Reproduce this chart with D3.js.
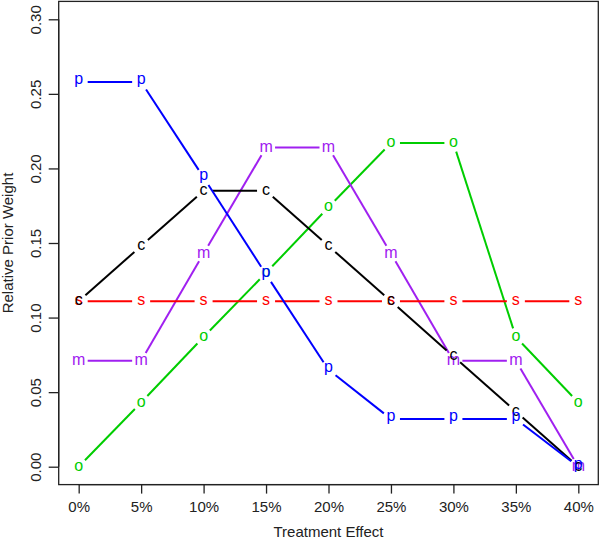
<!DOCTYPE html>
<html><head><meta charset="utf-8">
<script src="https://cdn.jsdelivr.net/npm/d3@7"></script>
<style>body{margin:0;background:#fff}svg{display:block}text{font-family:"Liberation Sans",Arial,sans-serif}</style>
</head><body>
<script>
const effects = [0, 5, 10, 15, 20, 25, 30, 35, 40];
const xTickLabels = ["0%","5%","10%","15%","20%","25%","30%","35%","40%"];
const yTicks = [0, 0.05, 0.10, 0.15, 0.20, 0.25, 0.30];
const seriesP = [0.258, 0.258, 0.194, 0.129, 0.065, 0.032, 0.032, 0.032, 0.000];
const seriesS = [0.111, 0.111, 0.111, 0.111, 0.111, 0.111, 0.111, 0.111, 0.111];
const seriesC = [0.111, 0.148, 0.185, 0.185, 0.148, 0.111, 0.074, 0.037, 0.000];
const seriesM = [0.071, 0.071, 0.143, 0.214, 0.214, 0.143, 0.071, 0.071, 0.000];
const seriesO = [0.000, 0.043, 0.087, 0.130, 0.174, 0.217, 0.217, 0.087, 0.043];
const seriesNames = ["o", "m", "s", "c", "p"];
const seriesColors = ["#00CD00", "#A020F0", "#FF0000", "#000000", "#0000FF"];
const seriesValues = [seriesO, seriesM, seriesS, seriesC, seriesP];

const W = 600, H = 539;
const svg = d3.select("body").append("svg").attr("width", W).attr("height", H);
const x = d3.scaleLinear().domain([-1.6, 41.6]).range([58.7, 598.3]);
const y = d3.scaleLinear().domain([-0.012, 0.312]).range([484.6, 1.4]);

// box
svg.append("rect").attr("x", x(-1.6)).attr("y", y(0.312)).attr("width", x(41.6)-x(-1.6)).attr("height", y(-0.012)-y(0.312))
  .attr("fill","none").attr("stroke","#222").attr("stroke-width",1.3);

// x axis
const xa = svg.append("g").attr("transform", `translate(0,${y(-0.012)})`)
  .call(d3.axisBottom(x).tickValues(effects).tickFormat((d,i)=>xTickLabels[i]).tickSize(9).tickPadding(8));
xa.select(".domain").attr("d", `M${x(0)},0H${x(40)}`).attr("stroke","#222").attr("stroke-width",1.3);
xa.selectAll(".tick line").attr("stroke","#222").attr("stroke-width",1.3);
xa.selectAll(".tick text").attr("font-size",15).attr("fill","#222").attr("font-family","Liberation Sans, Arial, sans-serif");

// y axis
const ya = svg.append("g").attr("transform", `translate(${x(-1.6)},0)`)
  .call(d3.axisLeft(y).tickValues(yTicks).tickFormat(d3.format(".2f")).tickSize(10));
ya.select(".domain").attr("d", `M0,${y(0)}V${y(0.30)}`).attr("stroke","#222").attr("stroke-width",1.3);
ya.selectAll(".tick line").attr("stroke","#222").attr("stroke-width",1.3);
ya.selectAll(".tick text").attr("font-size",15).attr("fill","#222").attr("font-family","Liberation Sans, Arial, sans-serif")
  .attr("x", 0).attr("y", 0).attr("dy", "0").attr("text-anchor","middle")
  .attr("transform", "translate(-18,0) rotate(-90)");

// titles
svg.append("text").attr("x", (x(0)+x(40))/2).attr("y", 537).attr("text-anchor","middle")
  .attr("font-size",15).attr("fill","#222").text("Treatment Effect");
svg.append("text").attr("transform", `translate(13,${(y(0)+y(0.30))/2}) rotate(-90)`).attr("text-anchor","middle")
  .attr("font-size",15).attr("fill","#222").text("Relative Prior Weight");

// series
const gap = 9;
const dyFor = {p: 2.5, s: 4.1, c: 4.1, m: 4.1, o: 4.1};
seriesValues.forEach((vals, si) => {
  const g = svg.append("g");
  const col = seriesColors[si];
  for (let i = 0; i < vals.length - 1; i++) {
    const x1 = x(effects[i]), y1 = y(vals[i]), x2 = x(effects[i+1]), y2 = y(vals[i+1]);
    const dx = x2 - x1, dy = y2 - y1, L = Math.hypot(dx, dy);
    if (L <= 2*gap) continue;
    const ux = dx/L, uy = dy/L;
    g.append("line").attr("x1", x1+ux*gap).attr("y1", y1+uy*gap).attr("x2", x2-ux*gap).attr("y2", y2-uy*gap)
      .attr("stroke", col).attr("stroke-width", 2);
  }
  g.selectAll("text").data(vals).join("text")
    .attr("x", (d,i)=>x(effects[i])).attr("y", d=>y(d)).attr("dy", dyFor[seriesNames[si]])
    .attr("text-anchor","middle").attr("font-size",16).attr("fill", col).text(seriesNames[si]);
});
</script>
</body></html>
